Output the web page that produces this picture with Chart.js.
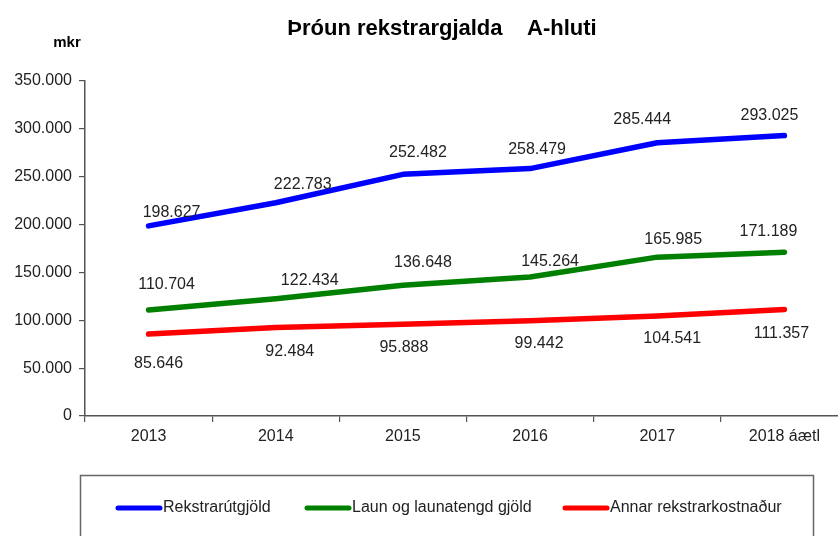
<!DOCTYPE html>
<html>
<head>
<meta charset="utf-8">
<script src="https://cdn.jsdelivr.net/npm/chart.js@4"></script>
<style>
  html, body { margin: 0; padding: 0; background: #fff; overflow: hidden; }
  #wrap { width: 848px; height: 536px; }
</style>
</head>
<body>
<div id="wrap"><canvas id="lineChart" width="848" height="536"></canvas></div>
<script>
const years = ['2013', '2014', '2015', '2016', '2017', '2018 áætl'];
const rekstrarutgjold = [198627, 222783, 252482, 258479, 285444, 293025];
const laun = [110704, 122434, 136648, 145264, 165985, 171189];
const annar = [85646, 92484, 95888, 99442, 104541, 111357];
const seriesNames = ['Rekstrarútgjöld', 'Laun og launatengd gjöld', 'Annar rekstrarkostnaður'];
const yTicks = [0, 50000, 100000, 150000, 200000, 250000, 300000, 350000];

// where each value label sits relative to its point (as in the original sheet)
const labelShift = [
    [[23, -13], [27, -18], [15, -22], [7, -19], [-15, -23], [-15, -20]],
    [[18, -25], [34, -18], [20, -23], [20, -15], [16, -18], [-16, -21]],
    [[10, 30], [14, 24], [1, 23], [9, 23], [15, 23], [-3, 24]]
];

const FONT = '"Liberation Sans", Arial, sans-serif';

function fmt(v) {
    return String(v).replace(/\B(?=(\d{3})+(?!\d))/g, '.');
}

const valueLabels = {
    id: 'valueLabels',
    afterDatasetsDraw(chart) {
        const ctx = chart.ctx;
        ctx.save();
        ctx.font = '16px ' + FONT;
        ctx.fillStyle = '#222';
        ctx.textAlign = 'center';
        ctx.textBaseline = 'middle';
        chart.data.datasets.forEach((ds, di) => {
            chart.getDatasetMeta(di).data.forEach((pt, i) => {
                const s = labelShift[di][i];
                ctx.fillText(fmt(ds.data[i]), pt.x + s[0], pt.y + s[1]);
            });
        });
        ctx.restore();
    }
};

const frame = {
    id: 'frame',
    afterDraw(chart) {
        const ctx = chart.ctx;
        ctx.save();
        // title
        ctx.fillStyle = '#000';
        ctx.font = 'bold 22px ' + FONT;
        ctx.textAlign = 'center';
        ctx.textBaseline = 'middle';
        ctx.fillText('Þróun rekstrargjalda    A-hluti', 442, 29);
        ctx.font = 'bold 15px ' + FONT;
        ctx.fillText('mkr', 67, 43);

        // legend box
        ctx.strokeStyle = '#666';
        ctx.lineWidth = 1.5;
        ctx.strokeRect(80.5, 475.5, 733, 80);
        const starts = [118, 307, 565];
        ctx.font = '16px ' + FONT;
        ctx.textAlign = 'left';
        chart.data.datasets.forEach((ds, di) => {
            const x = starts[di];
            ctx.strokeStyle = ds.borderColor;
            ctx.lineWidth = 5;
            ctx.lineCap = 'round';
            ctx.beginPath();
            ctx.moveTo(x, 508);
            ctx.lineTo(x + 42, 508);
            ctx.stroke();
            ctx.fillStyle = '#222';
            ctx.fillText(ds.label, x + 45, 508);
        });
        ctx.restore();
    }
};

const mkLine = (label, data, color) => ({
    label: label,
    data: data,
    borderColor: color,
    backgroundColor: color,
    borderWidth: 5.5,
    borderCapStyle: 'round',
    borderJoinStyle: 'round',
    tension: 0,
    pointRadius: 0,
    fill: false
});

new Chart(document.getElementById('lineChart'), {
    type: 'line',
    data: {
        labels: years,
        datasets: [
            mkLine(seriesNames[0], rekstrarutgjold, '#0000ff'),
            mkLine(seriesNames[1], laun, '#008000'),
            mkLine(seriesNames[2], annar, '#ff0000')
        ]
    },
    options: {
        responsive: false,
        animation: false,
        layout: { padding: { top: 81, left: 0, right: 0, bottom: 0 } },
        plugins: {
            legend: { display: false },
            title: { display: false },
            tooltip: { enabled: false }
        },
        scales: {
            x: {
                offset: true,
                afterFit: (scale) => { scale.height = 120; },
                grid: { offset: true, drawOnChartArea: false, drawTicks: true, tickLength: 6, color: '#555', lineWidth: 1.2 },
                border: { display: true, color: '#555', width: 1.5 },
                ticks: { color: '#222', padding: 5, font: { size: 16, family: FONT }, maxRotation: 0 }
            },
            y: {
                min: 0,
                max: 350000,
                afterFit: (scale) => { scale.width = 85; },
                afterBuildTicks: (scale) => { scale.ticks = yTicks.map(v => ({ value: v })); },
                grid: { drawOnChartArea: false, drawTicks: true, tickLength: 6, color: '#555', lineWidth: 1.2 },
                border: { display: true, color: '#555', width: 1.5 },
                ticks: {
                    color: '#222',
                    padding: 7,
                    font: { size: 16, family: FONT },
                    callback: (v) => fmt(v)
                }
            }
        }
    },
    plugins: [valueLabels, frame]
});
</script>
</body>
</html>
